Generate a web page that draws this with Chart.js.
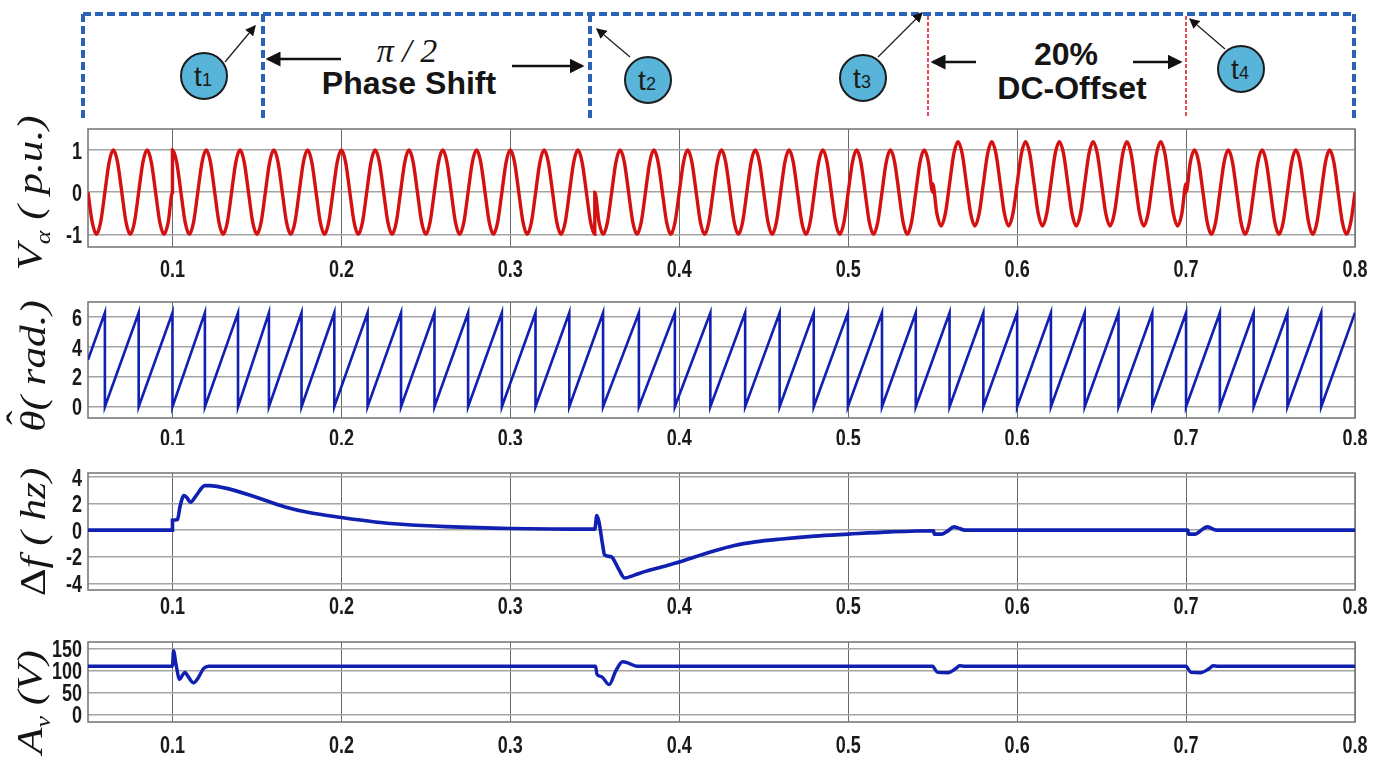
<!DOCTYPE html>
<html>
<head>
<meta charset="utf-8">
<script src="https://cdn.jsdelivr.net/npm/chart.js@4.4.0/dist/chart.umd.min.js"></script>
<style>
  html, body { margin: 0; padding: 0; background: #fff; }
  #page { position: relative; width: 1388px; height: 759px; overflow: hidden; background: #fff; }
  #page canvas { position: absolute; left: 0; }
  #events { position: absolute; left: 0; top: 0; }
  .ylab {
    position: absolute;
    transform: translate(-50%, -50%) rotate(-90deg) scaleX(1.2);
    white-space: nowrap;
    font-family: "Liberation Serif", "Times New Roman", serif;
    font-style: italic;
    font-size: 36px;
    color: #151515;
    line-height: 1;
  }
  .ylab sub { font-size: 60%; }
  .ylab .up { font-style: normal; }
  .ylab .hat { position: relative; display: inline-block; }
  .ylab .caret { position: absolute; left: 0.16em; top: -0.36em; font-style: normal; }
</style>
</head>
<body>
<div id="page">
  <svg id="events" width="1388" height="125" xmlns="http://www.w3.org/2000/svg">
    <defs>
      <marker id="headBig" markerWidth="6" markerHeight="6" refX="5" refY="3" orient="auto" markerUnits="strokeWidth">
        <path d="M0,0 L6,3 L0,6 z" fill="#111"/>
      </marker>
      <marker id="headSmall" markerWidth="8" markerHeight="8" refX="7" refY="4" orient="auto" markerUnits="strokeWidth">
        <path d="M0,0 L8,4 L0,8 z" fill="#111"/>
      </marker>
    </defs>
    <!-- event frame -->
    <g stroke="#2a62b8" stroke-width="4" stroke-dasharray="8 4" fill="none">
      <line x1="83" y1="14" x2="1354" y2="14"/>
      <line x1="83" y1="14" x2="83" y2="118"/>
      <line x1="263" y1="14" x2="263" y2="118"/>
      <line x1="590" y1="14" x2="590" y2="118"/>
      <line x1="1354" y1="14" x2="1354" y2="118"/>
    </g>
    <g stroke="#e0202a" stroke-width="1.6" stroke-dasharray="4 2" fill="none">
      <line x1="928" y1="16" x2="928" y2="118"/>
      <line x1="1186" y1="16" x2="1186" y2="118"/>
    </g>
    <!-- interval arrows -->
    <g stroke="#111" stroke-width="2.5" fill="none">
      <line x1="341" y1="59" x2="268" y2="59" marker-end="url(#headBig)"/>
      <line x1="512" y1="66" x2="582" y2="66" marker-end="url(#headBig)"/>
      <line x1="976" y1="62" x2="933" y2="62" marker-end="url(#headBig)"/>
      <line x1="1133" y1="62" x2="1180" y2="62" marker-end="url(#headBig)"/>
    </g>
    <!-- pointers from the event markers -->
    <g stroke="#222" stroke-width="1.3" fill="none">
      <line x1="225" y1="62" x2="255" y2="26" marker-end="url(#headSmall)"/>
      <line x1="630" y1="57" x2="597" y2="29" marker-end="url(#headSmall)"/>
      <line x1="878" y1="57" x2="922" y2="13" marker-end="url(#headSmall)"/>
      <line x1="1225" y1="49" x2="1190" y2="19" marker-end="url(#headSmall)"/>
    </g>
    <g fill="#58b4d8" stroke="#1c1c1c" stroke-width="2">
      <circle cx="204" cy="76" r="23"/>
      <circle cx="648" cy="80" r="23"/>
      <circle cx="863" cy="78" r="23"/>
      <circle cx="1241" cy="69" r="23"/>
    </g>
    <g font-family="Liberation Sans, Arial, sans-serif" fill="#1c1c1c" text-anchor="middle">
      <text x="203" y="86" font-size="28">t<tspan font-size="18">1</tspan></text>
      <text x="647" y="90" font-size="28">t<tspan font-size="18">2</tspan></text>
      <text x="862" y="88" font-size="28">t<tspan font-size="18">3</tspan></text>
      <text x="1240" y="79" font-size="28">t<tspan font-size="18">4</tspan></text>
    </g>
    <text x="407" y="62" text-anchor="middle" font-family="Liberation Serif, Times New Roman, serif" font-style="italic" font-size="34" fill="#151515">π / 2</text>
    <g font-family="Liberation Sans, Arial, sans-serif" font-weight="bold" font-size="32" fill="#151515" text-anchor="middle">
      <text x="409" y="94">Phase Shift</text>
      <text x="1066" y="65">20%</text>
      <text x="1072" y="99">DC-Offset</text>
    </g>
  </svg>

  <canvas id="cVa" width="1388" height="160" style="top:125px"></canvas>
  <canvas id="cTheta" width="1388" height="160" style="top:285px"></canvas>
  <canvas id="cDf" width="1388" height="175" style="top:445px"></canvas>
  <canvas id="cAv" width="1388" height="139" style="top:620px"></canvas>

  <div class="ylab" style="left:33px; top:193px">V<sub>α</sub> ( p.u.)</div>
  <div class="ylab" style="left:33px; top:366px"><span class="hat">θ<span class="caret">ˆ</span></span>( rad.)</div>
  <div class="ylab" style="left:33px; top:532px"><span class="up">Δ</span>f ( hz)</div>
  <div class="ylab" style="left:33px; top:702px">A<sub>v</sub> (V)</div>
</div>

<script>
// time axis
const xTicks = [0.1, 0.2, 0.3, 0.4, 0.5, 0.6, 0.7, 0.8];

// V_alpha (p.u.), eight samples per 20 ms period on each interval
const vaStep = 0.0025;
const vaStarts = [0.05, 0.10, 0.35, 0.55, 0.70];
const vaBeforeShift = [
  0, -0.71, -1, -0.71, 0, 0.71, 1, 0.71,
  0, -0.71, -1, -0.71, 0, 0.71, 1, 0.71,
  0, -0.71, -1, -0.71, 0
];
const vaAfterShift = [
  1, 0.71, 0, -0.71, -1, -0.71, 0, 0.71,
  1, 0.71, 0, -0.71, -1, -0.71, 0, 0.71,
  1, 0.71, 0, -0.71, -1, -0.71, 0, 0.71,
  1, 0.71, 0, -0.71, -1, -0.71, 0, 0.71,
  1, 0.71, 0, -0.71, -1, -0.71, 0, 0.71,
  1, 0.71, 0, -0.71, -1, -0.71, 0, 0.71,
  1, 0.71, 0, -0.71, -1, -0.71, 0, 0.71,
  1, 0.71, 0, -0.71, -1, -0.71, 0, 0.71,
  1, 0.71, 0, -0.71, -1, -0.71, 0, 0.71,
  1, 0.71, 0, -0.71, -1, -0.71, 0, 0.71,
  1, 0.71, 0, -0.71, -1, -0.71, 0, 0.71,
  1, 0.71, 0, -0.71, -1, -0.71, 0, 0.71,
  1, 0.71, 0, -0.71, -1
];
const vaRestored = [
  0, -0.71, -1, -0.71, 0, 0.71, 1, 0.71,
  0, -0.71, -1, -0.71, 0, 0.71, 1, 0.71,
  0, -0.71, -1, -0.71, 0, 0.71, 1, 0.71,
  0, -0.71, -1, -0.71, 0, 0.71, 1, 0.71,
  0, -0.71, -1, -0.71, 0, 0.71, 1, 0.71,
  0, -0.71, -1, -0.71, 0, 0.71, 1, 0.71,
  0, -0.71, -1, -0.71, 0, 0.71, 1, 0.71,
  0, -0.71, -1, -0.71, 0, 0.71, 1, 0.71,
  0, -0.71, -1, -0.71, 0, 0.71, 1, 0.71,
  0, -0.71, -1, -0.71, 0, 0.71, 1, 0.71,
  0
];
const vaDcOffset = [
  0.2, -0.51, -0.8, -0.51, 0.2, 0.91, 1.2, 0.91,
  0.2, -0.51, -0.8, -0.51, 0.2, 0.91, 1.2, 0.91,
  0.2, -0.51, -0.8, -0.51, 0.2, 0.91, 1.2, 0.91,
  0.2, -0.51, -0.8, -0.51, 0.2, 0.91, 1.2, 0.91,
  0.2, -0.51, -0.8, -0.51, 0.2, 0.91, 1.2, 0.91,
  0.2, -0.51, -0.8, -0.51, 0.2, 0.91, 1.2, 0.91,
  0.2, -0.51, -0.8, -0.51, 0.2, 0.91, 1.2, 0.91,
  0.2, -0.51, -0.8, -0.51, 0.2
];
const vaTail = [
  0, 0.71, 1, 0.71, 0, -0.71, -1, -0.71,
  0, 0.71, 1, 0.71, 0, -0.71, -1, -0.71,
  0, 0.71, 1, 0.71, 0, -0.71, -1, -0.71,
  0, 0.71, 1, 0.71, 0, -0.71, -1, -0.71,
  0, 0.71, 1, 0.71, 0, -0.71, -1, -0.71,
  0
];
const vaTicks = [-1, 0, 1];

// estimated phase theta (rad): wrap instants of the sawtooth
const thetaStart = 3.14;
const thetaTop = 6.28;
const thetaWraps = [
  0.06, 0.08, 0.1, 0.1192, 0.1388, 0.1571, 0.1764, 0.1958, 0.2155, 0.2353,
  0.2551, 0.275, 0.295, 0.3149, 0.3349, 0.3549, 0.3761, 0.3974, 0.4184, 0.439,
  0.4594, 0.4796, 0.4998, 0.52, 0.54, 0.56, 0.58, 0.6, 0.62, 0.64,
  0.66, 0.68, 0.7, 0.72, 0.74, 0.76, 0.78
];
const thetaTicks = [0, 2, 4, 6];

// frequency deviation (Hz)
const dfTime = [
  0.05, 0.1, 0.1, 0.103, 0.1045, 0.1068, 0.1085, 0.1107, 0.114, 0.1192,
  0.122, 0.13, 0.1456, 0.1667, 0.18, 0.2, 0.22, 0.2355, 0.262, 0.3,
  0.35, 0.3512, 0.3525, 0.3545, 0.3558, 0.3597, 0.364, 0.3677, 0.373, 0.38,
  0.39, 0.4, 0.41, 0.42, 0.4326, 0.445, 0.459, 0.48, 0.5, 0.525,
  0.5505, 0.551, 0.555, 0.559, 0.5625, 0.566, 0.569, 0.701, 0.7015, 0.7055,
  0.709, 0.7125, 0.716, 0.718, 0.8
];
const dfValue = [
  0, 0, 0.75, 0.8, 1.8, 2.6, 2.45, 2.1, 2.6, 3.35,
  3.35, 3.2, 2.65, 1.75, 1.35, 0.95, 0.62, 0.45, 0.27, 0.13,
  0.08, 1.1, 0.6, -1.0, -1.85, -2.0, -2.9, -3.6, -3.4, -3.1,
  -2.75, -2.4, -1.98, -1.58, -1.15, -0.88, -0.68, -0.45, -0.3, -0.13,
  -0.04, -0.3, -0.3, -0.05, 0.25, 0.12, 0, 0, -0.3, -0.3,
  0, 0.25, 0.08, 0, 0
];
const dfTicks = [-4, -2, 0, 2, 4];

// amplitude estimate (V)
const avTime = [
  0.05, 0.1, 0.1006, 0.1022, 0.1042, 0.106, 0.1075, 0.109, 0.1125, 0.115,
  0.1185, 0.1215, 0.35, 0.3505, 0.3512, 0.354, 0.3585, 0.3625, 0.3665, 0.3705,
  0.375, 0.55, 0.5505, 0.553, 0.559, 0.5635, 0.566, 0.569, 0.7, 0.7005,
  0.703, 0.7085, 0.7135, 0.716, 0.719, 0.8
];
const avValue = [
  110, 110, 145, 112, 80, 90, 96, 88, 72, 82,
  105, 110, 110, 110, 92, 86, 68, 100, 120, 116,
  110, 110, 108, 96, 95, 104, 111, 110, 110, 108,
  96, 95, 104, 111, 110, 110
];
const avTicks = [0, 50, 100, 150];

const RED = '#d41010';
const BLUE = '#1020b0';

// stitch the V_alpha intervals into one trace (jumps share the same x)
const vaPoints = [];
[vaBeforeShift, vaAfterShift, vaRestored, vaDcOffset, vaTail].forEach((seg, k) => {
  seg.forEach((v, i) => vaPoints.push({ x: vaStarts[k] + i * vaStep, y: v }));
});

const thetaPoints = [{ x: 0.05, y: thetaStart }];
thetaWraps.forEach(t => {
  thetaPoints.push({ x: t, y: thetaTop });
  thetaPoints.push({ x: t, y: 0 });
});
thetaPoints.push({ x: 0.8, y: thetaTop });

const dfPoints = dfTime.map((t, i) => ({ x: t, y: dfValue[i] }));
const avPoints = avTime.map((t, i) => ({ x: t, y: avValue[i] }));

// grey frame round each plot area
const frameBox = {
  id: 'frameBox',
  beforeDatasetsDraw(chart) {
    const { ctx, chartArea: a } = chart;
    ctx.save();
    ctx.strokeStyle = '#7a7a7a';
    ctx.lineWidth = 1.6;
    ctx.strokeRect(a.left, a.top, a.right - a.left, a.bottom - a.top);
    ctx.restore();
  }
};

// bold, horizontally squeezed tick labels placed from the scales
const narrowTicks = {
  id: 'narrowTicks',
  afterDraw(chart, args, o) {
    const { ctx, chartArea: a, scales } = chart;
    ctx.save();
    ctx.fillStyle = '#1a1a1a';
    ctx.font = 'bold 24px "Liberation Sans", Arial, sans-serif';
    ctx.textBaseline = 'alphabetic';
    ctx.textAlign = 'center';
    scales.x.ticks.forEach(t => {
      ctx.save();
      ctx.translate(scales.x.getPixelForValue(t.value), a.bottom + o.xBase);
      ctx.scale(0.75, 1);
      ctx.fillText(t.value.toFixed(1), 0, 0);
      ctx.restore();
    });
    ctx.textAlign = 'right';
    scales.y.ticks.forEach(t => {
      ctx.save();
      ctx.translate(a.left - 6, scales.y.getPixelForValue(t.value) + 8.6);
      ctx.scale(0.75, 1);
      ctx.fillText(String(t.value), 0, 0);
      ctx.restore();
    });
    ctx.restore();
  }
};

function makePlot(id, points, opts) {
  return new Chart(document.getElementById(id), {
    type: 'line',
    data: {
      datasets: [{
        data: points,
        borderColor: opts.color,
        borderWidth: opts.width,
        pointRadius: 0,
        cubicInterpolationMode: opts.smooth ? 'monotone' : 'default',
        tension: 0
      }]
    },
    options: {
      responsive: false,
      animation: false,
      parsing: false,
      layout: { padding: { left: 0, right: 33, top: opts.padTop, bottom: 0 } },
      plugins: {
        legend: { display: false },
        tooltip: { enabled: false },
        narrowTicks: { xBase: opts.xBase }
      },
      scales: {
        x: {
          type: 'linear',
          min: 0.05,
          max: 0.8,
          afterBuildTicks: s => { s.ticks = xTicks.map(v => ({ value: v })); },
          afterFit: s => { s.height = opts.xAxisHeight; s.paddingLeft = 0; s.paddingRight = 0; },
          border: { display: false },
          grid: { color: '#6a6a6a', lineWidth: 1, drawTicks: false },
          ticks: { display: false }
        },
        y: {
          min: opts.yMin,
          max: opts.yMax,
          afterBuildTicks: s => { s.ticks = opts.yTicks.map(v => ({ value: v })); },
          afterFit: s => { s.width = 88; s.paddingTop = 0; s.paddingBottom = 0; },
          border: { display: false },
          grid: { color: '#a4a4a4', lineWidth: 1.6, drawTicks: false },
          ticks: { display: false }
        }
      }
    },
    plugins: [frameBox, narrowTicks]
  });
}

makePlot('cVa', vaPoints, {
  color: RED, width: 3.4, smooth: true,
  yMin: -1.3, yMax: 1.5, yTicks: vaTicks,
  padTop: 4, xAxisHeight: 38, xBase: 30
});
makePlot('cTheta', thetaPoints, {
  color: BLUE, width: 2.6,
  yMin: -0.75, yMax: 7, yTicks: thetaTicks,
  padTop: 17, xAxisHeight: 27, xBase: 28
});
makePlot('cDf', dfPoints, {
  color: BLUE, width: 3.6, smooth: true,
  yMin: -4.5, yMax: 4.3, yTicks: dfTicks,
  padTop: 28, xAxisHeight: 30, xBase: 24
});
makePlot('cAv', avPoints, {
  color: BLUE, width: 3.4, smooth: true,
  yMin: -17, yMax: 165, yTicks: avTicks,
  padTop: 22, xAxisHeight: 37, xBase: 31
});
</script>
</body>
</html>
